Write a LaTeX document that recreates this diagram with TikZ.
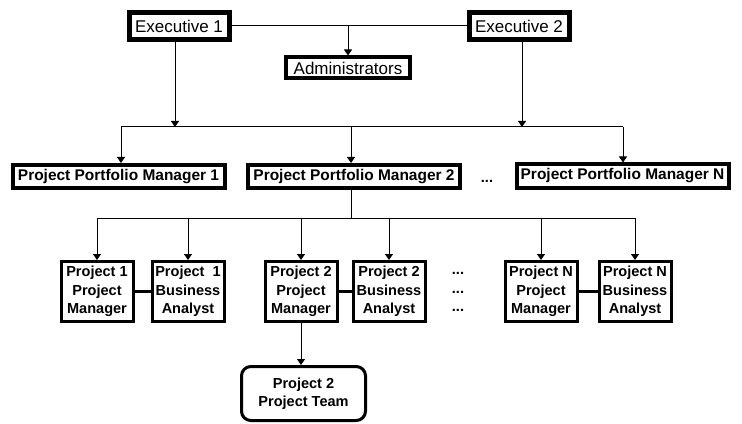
\documentclass[tikz,border=0pt]{standalone}
\usepackage{fontspec}
\setmainfont{Liberation Sans}
\usetikzlibrary{arrows.meta,positioning}

\begin{document}
\begin{tikzpicture}[x=0.75pt, y=-0.75pt,
    box/.style={draw=black, inner sep=0pt, align=center},
    topbox/.style={box, line width=3.75pt, minimum width=75pt, minimum height=20.25pt, font=\fontsize{12.75}{15}\selectfont},
    adminbox/.style={box, line width=3pt, minimum width=93pt, minimum height=15.75pt, font=\fontsize{12.75}{15}\selectfont},
    ppmbox/.style={box, line width=3pt, minimum width=159pt, minimum height=17.25pt, font=\fontsize{11.6}{14}\selectfont\bfseries},
    projbox/.style={box, line width=2.25pt, minimum width=54pt, minimum height=45pt, font=\fontsize{10.9}{13.7}\selectfont\bfseries},
    teambox/.style={projbox, rounded corners=7pt, minimum width=93pt, minimum height=40.5pt},
    dots/.style={inner sep=0pt, anchor=base, font=\fontsize{10.9}{13.7}\selectfont\bfseries},
    arr/.style={-{Triangle[width=6pt,length=4.5pt]}, line width=0.75pt},
    link/.style={line width=2.25pt}]
  \useasboundingbox (0,0) rectangle (742,424);
  \node[topbox] (exec1) at (179,26) {Executive 1};
  \node[topbox] (exec2) at (519,26) {Executive 2};
  \node[adminbox] (admin) at (348,68) {Administrators};
  \node[ppmbox] (ppm1) at (118.5,176.5) {Project Portfolio Manager 1};
  \node[ppmbox] (ppm2) at (354,176.5) {Project Portfolio Manager 2};
  \node[ppmbox] (ppmn) at (622.5,176) {Project Portfolio Manager N};
  \node[dots] (ppmdots) at (487,183) {...};
  \node[projbox] (pm1) at (97,291.5) {Project 1\\Project\\Manager};
  \node[projbox] (ba1) at (188,291.5) {Project~~1\\Business\\Analyst};
  \node[projbox] (pm2) at (301,291.5) {Project 2\\Project\\Manager};
  \node[projbox] (ba2) at (389,291.5) {Project 2\\Business\\Analyst};
  \node[projbox] (pmn) at (541,291.5) {Project N\\Project\\Manager};
  \node[projbox] (ban) at (635,291.5) {Project N\\Business\\Analyst};
  \foreach \y/\n in {274/a, 293/b, 311/c}
    \node[dots] (projdots\n) at (458,\y) {...};
  \node[teambox] (team) at (303.5,393.5) {Project 2\\Project Team};
  \coordinate (e1tap) at (175,127);
  \coordinate (e2tap) at (522,127);
  \coordinate (tapA) at (121,127);
  \coordinate (tapB) at (351,127);
  \coordinate (tapC) at (623,127);
  \coordinate (midL) at (97,218);
  \coordinate (midR) at (636,218);
  \draw[line width=0.75pt] (exec1.east) -- (exec2.west);
  \draw[arr] (exec1.east -| admin.north) -- (admin.north);
  \draw[arr] (exec1.south -| e1tap) -- (e1tap);
  \draw[arr] (exec2.south -| e2tap) -- (e2tap);
  \draw[line width=0.75pt] (tapA) -- (tapC);
  \foreach \t/\n in {tapA/ppm1, tapB/ppm2, tapC/ppmn}
    \draw[arr] (\t) -- (\t |- \n.north);
  \draw[line width=0.75pt] (ppm2.south -| tapB) -- (tapB |- midL);
  \draw[line width=0.75pt] (midL) -- (midR);
  \foreach \n in {pm1, ba1, pm2, ba2, pmn, ban}
    \draw[arr] (\n.north |- midL) -- (\n.north);
  \foreach \a/\b in {pm1/ba1, pm2/ba2, pmn/ban}
    \draw[link] (\a) -- (\b);
  \draw[arr] (pm2.south) -- (pm2.south |- team.north);
\end{tikzpicture}
\end{document}
